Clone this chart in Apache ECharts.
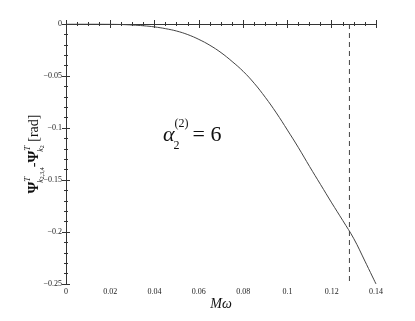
<!DOCTYPE html>
<html><head><meta charset="utf-8">
<script src="https://cdn.jsdelivr.net/npm/echarts@6/dist/echarts.min.js"></script>
<style>html,body{margin:0;padding:0;background:#fff}#c{width:415px;height:321px}</style>
</head><body><div id="c"></div>
<script>
const xValues = [0, 0.01, 0.02, 0.025, 0.03, 0.035, 0.04, 0.045, 0.05, 0.055, 0.06, 0.065, 0.07, 0.075, 0.08, 0.085, 0.09, 0.095, 0.10, 0.105, 0.11, 0.115, 0.12, 0.125, 0.13, 0.135, 0.14];
const yValues = [0, 0, -0.0002, -0.0005, -0.001, -0.0017, -0.0028, -0.0045, -0.0068, -0.0102, -0.0148, -0.0205, -0.0275, -0.036, -0.0455, -0.057, -0.0705, -0.0855, -0.102, -0.119, -0.137, -0.1545, -0.172, -0.189, -0.2065, -0.228, -0.25];
const markerX = [0.128];
const xTicks = [0, 0.02, 0.04, 0.06, 0.08, 0.1, 0.12, 0.14];
const yTicks = [0, -0.05, -0.1, -0.15, -0.2, -0.25];

const serif = 'Liberation Serif';
const axisCol = '#333';
function fmtY(v){ if (Math.abs(v) < 1e-9) return '0'; return '\u2212' + String(+Math.abs(v).toFixed(2)); }
function fmtX(v){ if (Math.abs(v) < 1e-9) return '0'; return String(+v.toFixed(2)); }

const chart = echarts.init(document.getElementById('c'));
const baseAxis = {
  axisLine: {show: true, lineStyle: {color: axisCol, width: 1}},
  axisTick: {show: true, inside: true, length: 4, lineStyle: {color: axisCol}},
  splitLine: {show: false}
};
function minor(n){ return {show: true, splitNumber: n, length: 2, lineStyle: {color: axisCol}}; }
chart.setOption({
  animation: false,
  grid: {left: 66, right: 39, top: 24, bottom: 37},
  xAxis: [
    Object.assign({}, baseAxis, {
      type: 'value', min: xTicks[0], max: xTicks[xTicks.length-1], interval: 0.02, position: 'bottom',
      minorTick: minor(4),
      axisLabel: {fontFamily: serif, fontSize: 8, color: '#222', margin: 4, formatter: fmtX},
      name: '{i|M\u03c9}', nameLocation: 'middle', nameGap: 13, nameMoveOverlap: false,
      nameTextStyle: {rich: {i: {fontFamily: serif, fontStyle: 'italic', fontSize: 14, color: '#111'}}}
    }),
    Object.assign({}, baseAxis, {
      type: 'value', min: xTicks[0], max: xTicks[xTicks.length-1], interval: 0.02, position: 'top',
      minorTick: minor(4),
      axisLabel: {show: false}
    })
  ],
  yAxis: [
    Object.assign({}, baseAxis, {
      type: 'value', min: yTicks[yTicks.length-1], max: yTicks[0], interval: 0.05, position: 'left',
      minorTick: minor(5),
      axisLabel: {fontFamily: serif, fontSize: 8, color: '#222', margin: 4, formatter: fmtY},
      name: '{b|\u03a8}{s|T}{d|k}{dd|2,3,4}{m|-}{b|\u03a8}{s|T}{d|k}{dd|2}{m| [rad]}',
      nameLocation: 'middle', nameGap: 21, nameRotate: 90, nameMoveOverlap: false,
      nameTextStyle: {lineHeight: 22, rich: {
        b: {fontFamily: serif, fontWeight: 'bold', fontSize: 15, color: '#111', lineHeight: 22},
        s: {fontFamily: serif, fontStyle: 'italic', fontSize: 9, color: '#111', verticalAlign: 'top', lineHeight: 22},
        d: {fontFamily: serif, fontStyle: 'italic', fontSize: 8, color: '#111', verticalAlign: 'bottom', lineHeight: 22, padding: [0,0,0,-6]},
        dd: {fontFamily: serif, fontSize: 6, color: '#111', verticalAlign: 'bottom', lineHeight: 20},
        m: {fontFamily: serif, fontSize: 14, color: '#111', lineHeight: 22}
      }}
    }),
    Object.assign({}, baseAxis, {
      type: 'value', min: yTicks[yTicks.length-1], max: yTicks[0], interval: 0.05, position: 'right',
      minorTick: minor(5),
      axisLabel: {show: false}
    })
  ],
  graphic: [{
    type: 'text', left: 163, top: 118,
    style: {
      text: '{a|\u03b1}{p|(2)}{q|2}{e|= 6}',
      rich: {
        a: {fontFamily: serif, fontStyle: 'italic', fontSize: 22, fill: '#111', lineHeight: 34},
        p: {fontFamily: serif, fontSize: 12, fill: '#111', verticalAlign: 'top', lineHeight: 34},
        q: {fontFamily: serif, fontSize: 12, fill: '#111', verticalAlign: 'bottom', lineHeight: 34, padding: [0,0,0,-15]},
        e: {fontFamily: serif, fontSize: 22, fill: '#111', lineHeight: 34, padding: [0,0,0,13]}
      }
    }
  }],
  series: [{
    type: 'line', smooth: 0.4, symbol: 'none',
    data: xValues.map((x, i) => [x, yValues[i]]),
    lineStyle: {color: '#444', width: 1}
  }, {
    type: 'line', symbol: 'none', silent: true,
    data: [[markerX[0], yTicks[0]], [markerX[0], yTicks[yTicks.length-1]]],
    lineStyle: {color: '#444', width: 1, type: [5, 4]}
  }]
});
</script></body></html>
